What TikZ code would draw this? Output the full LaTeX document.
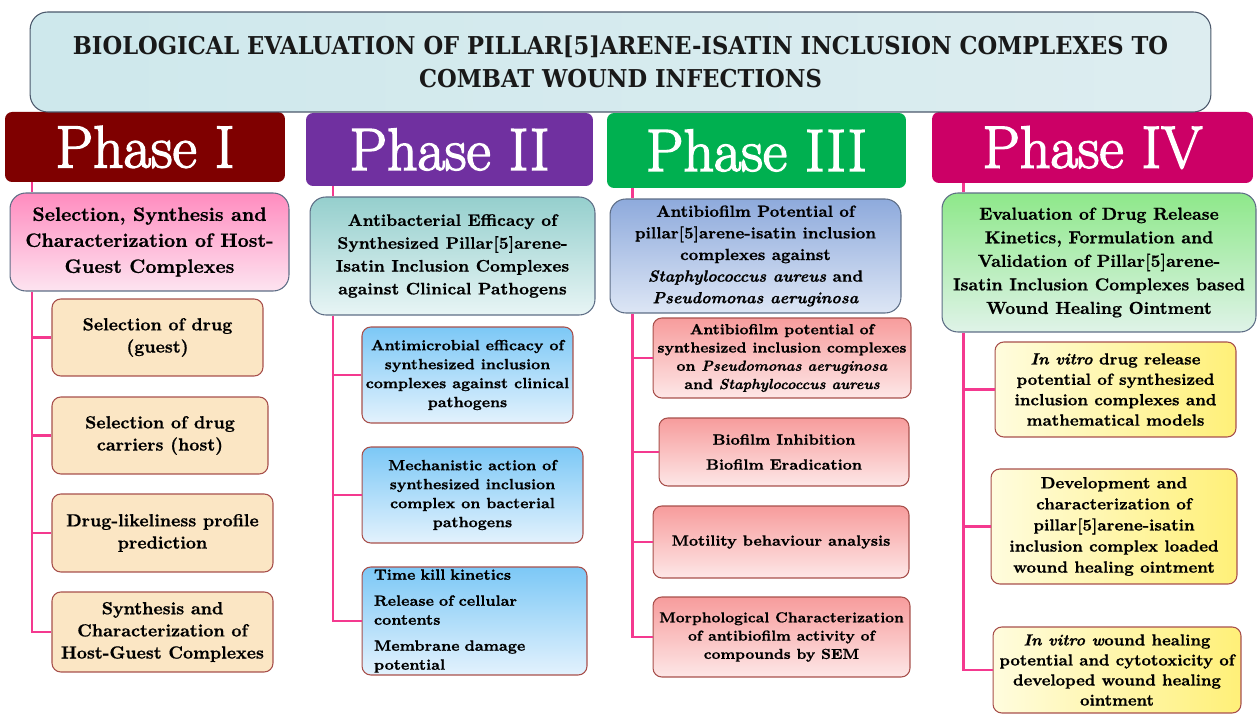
\documentclass[tikz,border=0pt]{standalone}
\usepackage{fontspec}
\setmainfont{Latin Modern Roman}[BoldFeatures={FakeBold=0.8}, BoldItalicFeatures={FakeBold=0.8}]
\newfontfamily\titlefont{DejaVu Serif}
\newfontfamily\phasefont{Latin Modern Roman}[FakeBold=2.5]
\usepackage{graphicx}

\definecolor{linkpink}{HTML}{F4398F}
\definecolor{phaseone}{HTML}{7F0000}
\definecolor{phasetwo}{HTML}{7030A0}
\definecolor{phasethree}{HTML}{00B050}
\definecolor{phasefour}{HTML}{CC0066}
\definecolor{edgegrey}{HTML}{5E6E86}
\definecolor{edgered}{HTML}{A8504C}
\definecolor{titleside}{HTML}{CEE8EC}
\definecolor{titlemid}{HTML}{A4D2D2}
\definecolor{titleend}{HTML}{DDEDF0}
\definecolor{pinktop}{HTML}{FF8CBF}
\definecolor{pinkbot}{HTML}{FDE4F0}
\definecolor{wheat}{HTML}{FBE6C4}
\definecolor{tealtop}{HTML}{95CFCD}
\definecolor{tealbot}{HTML}{E8F5F5}
\definecolor{skytop}{HTML}{7CC8F6}
\definecolor{skybot}{HTML}{E3F2FD}
\definecolor{bluetop}{HTML}{8EAADC}
\definecolor{bluebot}{HTML}{DDE6F5}
\definecolor{redtop}{HTML}{F79C9C}
\definecolor{redbot}{HTML}{FDE7E7}
\definecolor{greentop}{HTML}{8EE88A}
\definecolor{greenbot}{HTML}{DFF3E8}
\definecolor{yellowpale}{HTML}{FFFCDE}
\definecolor{yellowdeep}{HTML}{FFF078}

\begin{document}
\begin{tikzpicture}[x=0.02cm,y=-0.02cm,
    every node/.style={inner sep=0pt},
    fs/.style 2 args={font=\bfseries\fontsize{#1}{#2}\selectfont},
    phasebox/.style={rounded corners=4pt, fill=#1, text=white, font=\phasefont\fontsize{34}{38}\selectfont},
    headbox/.style={rounded corners=9pt, draw=edgegrey, line width=0.6pt, align=center},
    subbox/.style={rounded corners=5pt, draw=edgered, line width=0.6pt, align=center},
    link/.style={draw=linkpink, line width=1.7pt}]
    \clip (0,0) rectangle (1257,715);
    \fill [white] (0,0) rectangle (1257,715);

    \node [phasebox=phaseone, minimum width=5.6cm, minimum height=1.4cm] (h1) at (145,147) {Phase I};
    \node [phasebox=phasetwo, minimum width=5.74cm, minimum height=1.46cm] (h2) at (449.5,149.5) {Phase II};
    \node [phasebox=phasethree, minimum width=5.98cm, minimum height=1.5cm] (h3) at (756.5,150.5) {Phase III};
    \node [phasebox=phasefour, minimum width=6.42cm, minimum height=1.42cm] (h4) at (1092.5,147.5) {Phase IV};

    \node [headbox, rounded corners=10pt, draw=edgegrey!80!black, left color=titleside, middle color=titlemid, right color=titleend, minimum width=23.62cm, minimum height=2cm, text=black!90, font=\titlefont\bfseries\fontsize{14}{18.8}\selectfont] (title) at (620.5,62)
        {\scalebox{0.92}[1]{BIOLOGICAL EVALUATION OF PILLAR[5]ARENE-ISATIN INCLUSION COMPLEXES TO}\\
         \scalebox{0.92}[1]{COMBAT WOUND INFECTIONS}};

    \coordinate (sp1) at (32,0);
    \coordinate (sp2) at (333,0);
    \coordinate (sp3) at (632,0);
    \coordinate (sp4) at (963,0);

    % phase I
    \node [headbox, top color=pinktop, bottom color=pinkbot, minimum width=5.58cm, minimum height=1.96cm, fs={11}{14.8}] (m1) at (149.5,242)
        {Selection, Synthesis and\\Characterization of Host-\\Guest Complexes};
    \node [subbox, fill=wheat, minimum width=4.22cm, minimum height=1.54cm, fs={10}{12.6}] (s11) at (157.5,337.5)
        {Selection of drug\\(guest)};
    \node [subbox, fill=wheat, minimum width=4.32cm, minimum height=1.54cm, fs={10}{12.6}] (s12) at (160,435.5)
        {Selection of drug\\carriers (host)};
    \node [subbox, fill=wheat, minimum width=4.42cm, minimum height=1.56cm, fs={10}{12.6}] (s13) at (162.5,533)
        {Drug-likeliness profile\\prediction};
    \node [subbox, fill=wheat, minimum width=4.42cm, minimum height=1.6cm, fs={10}{12.6}] (s14) at (162.5,632)
        {Synthesis and\\Characterization of\\Host-Guest Complexes};

    % phase II
    \node [headbox, top color=tealtop, bottom color=tealbot, minimum width=5.7cm, minimum height=2.36cm, fs={9.5}{13}] (m2) at (452.5,256)
        {Antibacterial Efficacy of\\Synthesized Pillar[5]arene-\\Isatin Inclusion Complexes\\against Clinical Pathogens};
    \node [subbox, top color=skytop, bottom color=skybot, minimum width=4.22cm, minimum height=1.92cm, fs={8.4}{10.8}] (s21) at (467.5,375)
        {Antimicrobial efficacy of\\synthesized inclusion\\complexes against clinical\\pathogens};
    \node [subbox, top color=skytop, bottom color=skybot, minimum width=4.42cm, minimum height=1.92cm, fs={8.4}{10.8}] (s22) at (472.5,495)
        {Mechanistic action of\\synthesized inclusion\\complex on bacterial\\pathogens};
    \node [subbox, align=left, text width=4.02cm, top color=skytop, bottom color=skybot, minimum width=4.5cm, minimum height=2.16cm, fs={8.5}{10.8}] (s23) at (474.5,621)
        {Time kill kinetics\\[4pt]Release of cellular\\contents\\[4pt]Membrane damage\\potential};

    % phase III
    \node [headbox, top color=bluetop, bottom color=bluebot, minimum width=5.82cm, minimum height=2.28cm, fs={9.2}{12.3}] (m3) at (755.5,256)
        {Antibiofilm Potential of\\pillar[5]arene-isatin inclusion\\complexes against\\\textit{Staphylococcus aureus} and\\\textit{Pseudomonas aeruginosa}};
    \node [subbox, top color=redtop, bottom color=redbot, minimum width=5.16cm, minimum height=1.6cm, fs={8.3}{10.4}] (s31) at (782,358)
        {Antibiofilm potential of\\synthesized inclusion complexes\\on \textit{Pseudomonas aeruginosa}\\and \textit{Staphylococcus aureus}};
    \node [subbox, top color=redtop, bottom color=redbot, minimum width=5cm, minimum height=1.36cm, fs={8.5}{14.2}] (s32) at (784,452)
        {Biofilm Inhibition\\Biofilm Eradication};
    \node [subbox, top color=redtop, bottom color=redbot, minimum width=5.12cm, minimum height=1.44cm, fs={8.5}{10.4}] (s33) at (781,542)
        {Motility behaviour analysis};
    \node [subbox, top color=redtop, bottom color=redbot, minimum width=5.14cm, minimum height=1.6cm, fs={8.2}{10.4}] (s34) at (781.5,637)
        {Morphological Characterization\\of antibiofilm activity of\\compounds by SEM};

    % phase IV
    \node [headbox, top color=greentop, bottom color=greenbot, minimum width=6.28cm, minimum height=2.78cm, fs={9.9}{13.4}] (m4) at (1099,262.5)
        {Evaluation of Drug Release\\Kinetics, Formulation and\\Validation of Pillar[5]arene-\\Isatin Inclusion Complexes based\\Wound Healing Ointment};
    \node [subbox, left color=yellowpale, right color=yellowdeep, minimum width=4.82cm, minimum height=1.9cm, fs={9.2}{11.6}] (s41) at (1115.5,389.5)
        {\textit{In vitro} drug release\\potential of synthesized\\inclusion complexes and\\mathematical models};
    \node [subbox, left color=yellowpale, right color=yellowdeep, minimum width=4.92cm, minimum height=2.3cm, fs={9.2}{12}] (s42) at (1114,526.5)
        {Development and\\characterization of\\pillar[5]arene-isatin\\inclusion complex loaded\\wound healing ointment};
    \node [subbox, left color=yellowpale, right color=yellowdeep, minimum width=4.96cm, minimum height=1.72cm, fs={9.1}{11.4}] (s43) at (1117,670)
        {\textit{In vitro w}ound healing\\potential and cytotoxicity of\\developed wound healing\\ointment};

    \draw [link] (h1.south -| sp1) -- (m1.north -| sp1);
    \draw [link] (m1.south -| sp1) |- (s14.west);
    \draw [link] (s11.west -| sp1) -- (s11.west);
    \draw [link] (s12.west -| sp1) -- (s12.west);
    \draw [link] (s13.west -| sp1) -- (s13.west);

    \draw [link] (h2.south -| sp2) -- (m2.north -| sp2);
    \draw [link] (m2.south -| sp2) |- (s23.west);
    \draw [link] (s21.west -| sp2) -- (s21.west);
    \draw [link] (s22.west -| sp2) -- (s22.west);

    \draw [link] (h3.south -| sp3) -- (m3.north -| sp3);
    \draw [link] (m3.south -| sp3) |- (s34.west);
    \draw [link] (s31.west -| sp3) -- (s31.west);
    \draw [link] (s32.west -| sp3) -- (s32.west);
    \draw [link] (s33.west -| sp3) -- (s33.west);

    \draw [link] (h4.south -| sp4) -- (m4.north -| sp4);
    \draw [link] (m4.south -| sp4) |- (s43.west);
    \draw [link] (s41.west -| sp4) -- (s41.west);
    \draw [link] (s42.west -| sp4) -- (s42.west);
\end{tikzpicture}
\end{document}
